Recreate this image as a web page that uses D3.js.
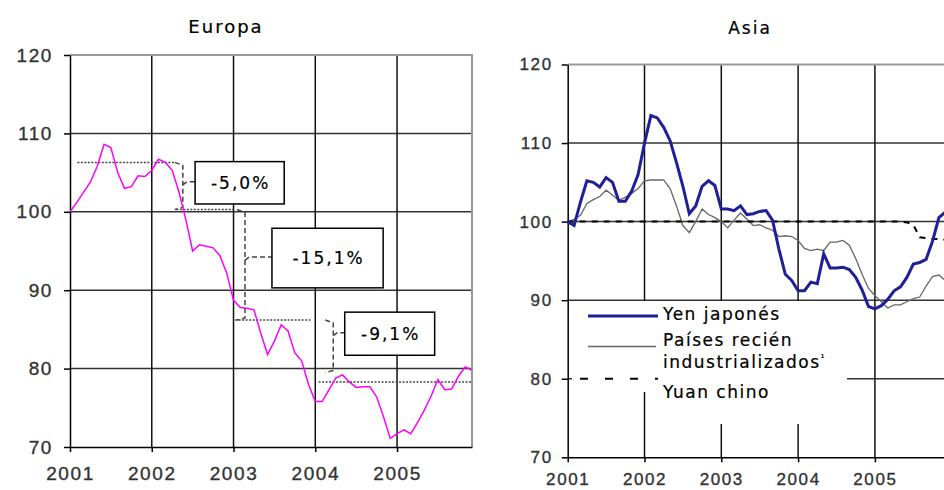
<!DOCTYPE html>
<meta charset="utf-8">
<style>
body { margin: 0; background: #fff; }
svg { display: block; font-family: "DejaVu Sans", Verdana, sans-serif; }
.axis path, .axis line { stroke: #000; stroke-width: 1.5; }
.axis text { fill: #333; stroke: #333; stroke-width: 0.35; }
text { stroke: #000; stroke-width: 0.2; }
</style>
<svg width="944" height="490"></svg>
<script src="https://d3js.org/d3.v7.min.js"></script>
<script>

// indices mensuales, ene 2001 - dic 2005
var anios = [2001, 2002, 2003, 2004, 2005];
var ticksY = [70, 80, 90, 100, 110, 120];

var europa = [100.0,101.2,102.5,103.8,105.8,108.6,108.2,105.0,103.0,103.2,104.6,104.5,
  105.3,106.7,106.3,105.3,102.5,99.0,95.0,95.8,95.6,95.4,94.4,92.2,
  88.7,87.8,87.7,87.5,84.5,81.8,83.5,85.6,84.8,82.0,81.0,78.0,
  75.8,75.8,77.3,78.8,79.2,78.3,77.6,77.7,77.7,76.4,73.9,71.1,
  71.7,72.2,71.7,73.1,74.7,76.5,78.6,77.3,77.4,79.0,80.2,79.8];

var yen = [100.0,99.5,102.5,105.2,105.0,104.4,105.6,105.0,102.6,102.6,103.9,106.0,
  110.0,113.5,113.2,112.0,110.3,107.5,104.5,101.0,102.0,104.5,105.2,104.6,
  101.6,101.6,101.4,102.0,100.9,101.0,101.3,101.4,100.2,96.5,93.3,92.5,
  91.2,91.2,92.3,92.1,95.9,94.1,94.1,94.2,93.9,92.9,91.3,89.2,
  88.9,89.3,90.1,91.2,91.7,92.9,94.6,94.8,95.2,97.5,100.5,101.2];

var paises = [100.0,100.3,100.8,102.3,102.8,103.2,104.0,103.4,102.7,103.1,103.6,104.2,
  105.2,105.3,105.3,105.3,104.2,102.0,99.5,98.6,100.0,101.6,100.9,100.5,
  100.0,99.2,100.2,101.1,100.3,99.5,99.6,99.2,98.9,98.1,98.2,98.1,
  97.6,96.6,96.3,96.5,96.3,97.4,97.4,97.6,97.0,95.3,93.3,91.5,
  90.6,89.8,89.0,89.4,89.4,89.8,90.2,90.4,91.8,93.0,93.2,92.5];

var yuan = [100,100,100,100,100,100,100,100,100,100,100,100,
  100,100,100,100,100,100,100,100,100,100,100,100,
  100,100,100,100,100,100,100,100,100,100,100,100,
  100,100,100,100,100,100,100,100,100,100,100,100,
  100,100,100,100,100,99.9,99.6,98.0,97.9,97.8,97.8,97.7];

// escalones de la depreciacion en Europa
var niveles = [106.3, 100.3, 86.2, 78.3];
var variaciones = ["-5,0%", "-15,1%", "-9,1%"];

var svg = d3.select("svg");
var fin = 2001 + 59 / 12;
function fecha(i) { return 2001 + i / 12; }

function panel(opt) {
  var x = d3.scaleLinear().domain([2001, fin]).range(opt.xr),
      y = d3.scaleLinear().domain([70, 120]).range(opt.yr);
  var g = svg.append("g");

  // rejilla
  g.selectAll(".gh").data(ticksY.slice(1, 5)).enter().append("line")
      .attr("x1", x(2001)).attr("x2", x(fin))
      .attr("y1", y).attr("y2", y)
      .attr("stroke", "#333").attr("stroke-width", 1.5);
  g.selectAll(".gv").data(anios.slice(1)).enter().append("line")
      .attr("x1", x).attr("x2", x)
      .attr("y1", y(70)).attr("y2", y(120))
      .attr("stroke", "#111").attr("stroke-width", 1.5);
  g.append("path")
      .attr("d", "M" + x(2001) + "," + y(120) + "H" + x(fin) + "V" + y(70))
      .attr("fill", "none").attr("stroke", "#999").attr("stroke-width", 2);

  g.append("g").attr("class", "axis")
      .attr("transform", "translate(0," + y(70) + ")")
      .call(d3.axisBottom(x).tickValues(anios).tickFormat(d3.format("d"))
        .tickSize(5).tickSizeOuter(0).tickPadding(opt.xpad))
      .selectAll("text")
      .style("font-size", opt.xfs + "px").style("letter-spacing", "1.6px");

  g.append("g").attr("class", "axis")
      .attr("transform", "translate(" + x(2001) + ",0)")
      .call(d3.axisLeft(y).tickValues(ticksY).tickSize(6).tickSizeOuter(0).tickPadding(opt.ypad))
      .selectAll("text")
      .style("font-size", opt.yfs + "px").style("letter-spacing", "1.6px");

  g.append("text")
      .attr("x", opt.tx).attr("y", opt.ty)
      .attr("text-anchor", "middle")
      .style("font-size", opt.tfs + "px").style("letter-spacing", "2px")
      .text(opt.titulo);

  return {g: g, x: x, y: y};
}

// ---------- Europa ----------
var eu = panel({xr: [70, 472], yr: [447, 55], xpad: 15, ypad: 11, xfs: 19, yfs: 19,
  titulo: "Europa", tx: 226, ty: 33, tfs: 18});

var tramos = [[2001.09, 2002.28], [2002.30, 2003.0], [2003.02, 2003.94], [2004.04, fin]];
eu.g.selectAll(".nivel").data(niveles).enter().append("line")
    .attr("x1", function(d, i) { return eu.x(tramos[i][0]); })
    .attr("x2", function(d, i) { return eu.x(tramos[i][1]); })
    .attr("y1", eu.y).attr("y2", eu.y)
    .attr("stroke", "#444").attr("stroke-width", 1.5)
    .attr("stroke-dasharray", "2,1.5");

var cajas = [
  {x: 2002.38, x0: 2002.53, x1: 2003.62, y0: 106.4, y1: 101.0},
  {x: 2003.14, x0: 2003.47, x1: 2004.83, y0: 97.9, y1: 90.3},
  {x: 2004.22, x0: 2004.36, x1: 2005.46, y0: 87.2, y1: 81.7}
];

cajas.forEach(function(c, i) {
  var cx = eu.x(c.x),
      top = eu.y(niveles[i]), bot = eu.y(i == 2 ? 79.5 : niveles[i + 1]),
      mid = (eu.y(c.y0) + eu.y(c.y1)) / 2;
  var p = d3.path();
  p.moveTo(cx - 8, top); p.lineTo(cx, top + 3); p.lineTo(cx, bot - 2); p.lineTo(cx - 8, bot);
  p.moveTo(cx, mid + 2); p.lineTo(cx + 4, mid - 1); p.lineTo(eu.x(c.x0), mid - 1);
  eu.g.append("path").attr("d", p.toString())
      .attr("fill", "none").attr("stroke", "#444").attr("stroke-width", 1.5)
      .attr("stroke-dasharray", "5,3");
});

eu.g.append("path")
    .datum(europa)
    .attr("fill", "none").attr("stroke", "#ff00ff").attr("stroke-width", 1.5)
    .attr("d", d3.line().x(function(d, i) { return eu.x(fecha(i)); }).y(function(d) { return eu.y(d); }));

cajas.forEach(function(c, i) {
  eu.g.append("rect")
      .attr("x", eu.x(c.x0)).attr("y", eu.y(c.y0))
      .attr("width", eu.x(c.x1) - eu.x(c.x0)).attr("height", eu.y(c.y1) - eu.y(c.y0))
      .attr("fill", "#fff").attr("stroke", "#000").attr("stroke-width", 1.5);
  eu.g.append("text")
      .attr("x", (eu.x(c.x0) + eu.x(c.x1)) / 2 + 1)
      .attr("y", (eu.y(c.y0) + eu.y(c.y1)) / 2 + 6)
      .attr("text-anchor", "middle")
      .style("font-size", "17px").style("letter-spacing", "2px")
      .text(variaciones[i]);
});

// ---------- Asia ----------
var as = panel({xr: [567.7, 945.3], yr: [457.3, 64.5], xpad: 11, ypad: 9, xfs: 17, yfs: 17,
  titulo: "Asia", tx: 750, ty: 34, tfs: 17});

var linea = d3.line().x(function(d, i) { return as.x(fecha(i)); }).y(function(d) { return as.y(d); });

as.g.append("path").datum(paises)
    .attr("fill", "none").attr("stroke", "#666").attr("stroke-width", 1.3).attr("d", linea);
as.g.append("path").datum(yuan)
    .attr("fill", "none").attr("stroke", "#000").attr("stroke-width", 2)
    .attr("stroke-dasharray", "6,6").attr("d", linea);
as.g.append("path").datum(yen)
    .attr("fill", "none").attr("stroke", "#1f1f99").attr("stroke-width", 3).attr("d", linea);

// leyenda
var ley = as.g.append("g");
ley.append("rect").attr("x", 572).attr("y", 301).attr("width", 90).attr("height", 91).attr("fill", "#fff");
ley.append("rect").attr("x", 660).attr("y", 301).attr("width", 187).attr("height", 123).attr("fill", "#fff");
ley.append("line").attr("x1", 588).attr("x2", 658).attr("y1", 316).attr("y2", 316)
    .attr("stroke", "#1f1f99").attr("stroke-width", 3);
ley.append("line").attr("x1", 588).attr("x2", 656).attr("y1", 346.5).attr("y2", 346.5)
    .attr("stroke", "#666").attr("stroke-width", 1.3);
ley.append("line").attr("x1", 580).attr("x2", 658).attr("y1", as.y(80)).attr("y2", as.y(80))
    .attr("stroke", "#000").attr("stroke-width", 2).attr("stroke-dasharray", "8,17");

var etiquetas = [["Yen japonés", 320], ["Países recién", 346], ["industrializados", 368], ["Yuan chino", 398]];
etiquetas.forEach(function(e) {
  var t = ley.append("text").attr("x", 663).attr("y", e[1])
      .style("font-size", "17px").style("letter-spacing", "1.5px").text(e[0]);
  if (e[0] == "industrializados") t.append("tspan").attr("dy", -6).style("font-size", "10px").text("¹");
});

</script>
